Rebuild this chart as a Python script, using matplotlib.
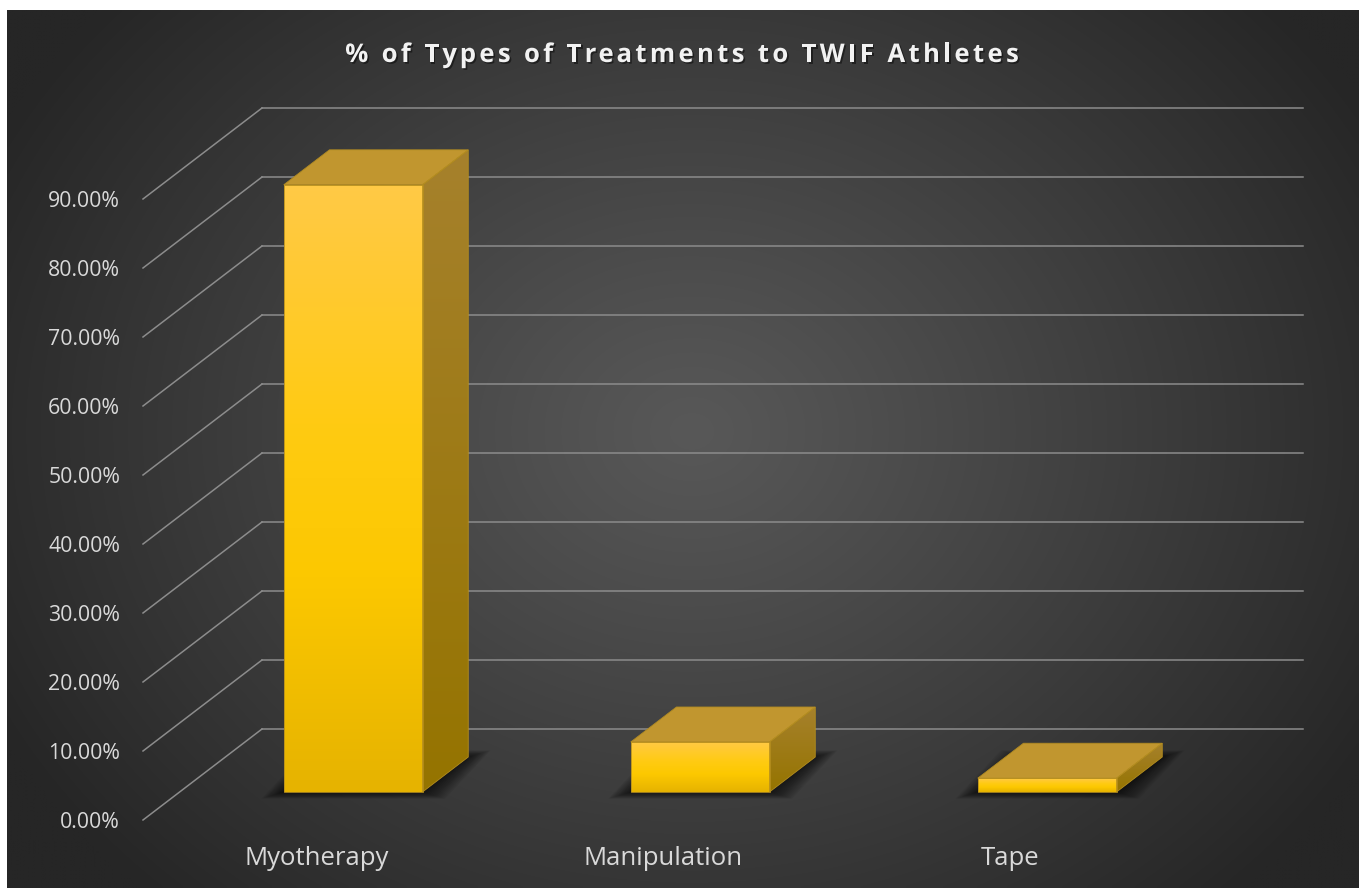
import numpy as np
import matplotlib
matplotlib.use("Agg")
import matplotlib.pyplot as plt
import matplotlib.patheffects as pe
from matplotlib.patches import Polygon
from matplotlib.colors import to_rgb
from matplotlib.font_manager import FontProperties
from matplotlib.transforms import IdentityTransform

CATEGORIES = ["Myotherapy", "Manipulation", "Tape"]
VALUES = [88.0, 7.25, 2.0]
Y_TICKS = [0, 10, 20, 30, 40, 50, 60, 70, 80, 90]
Y_TICK_LABELS = [f"{t:.2f}%" for t in Y_TICKS]
TITLE = "% of Types of Treatments to TWIF Athletes"

W, H, DPI = 1359, 888, 100
FONT = "Open Sans"
TEXT_COLOR = "#d9d9d9"
GRID_COLOR = "#8c8c8c"

# oblique 3-D projection, in data units (x: category, y: percent)
PX_X = 1 / 347          # one pixel along x
PX_Y = 1 / 6.9          # one pixel along y
DEPTH_DX = 119 * PX_X
DEPTH_DY = 91 * PX_Y
BAR_HALF = 0.2
BAR_D0, BAR_D1 = 0.308, 0.692

FRONT_STOPS = [0.0, 0.35, 0.6, 1.0]
FRONT_COLORS = ["#e6b300", "#fcc800", "#ffcb12", "#ffc946"]
SIDE_STOPS = [0.0, 1.0]
SIDE_COLORS = ["#957400", "#a6812c"]
TOP_COLOR = "#c1962f"


def proj(x, d, v):
    return (x + d * DEPTH_DX, v + d * DEPTH_DY)


def gradient_face(ax, verts, stops, colors, zorder):
    poly = Polygon(verts, closed=True, facecolor="none", edgecolor="none",
                   transform=ax.transData, clip_on=False)
    ax.add_patch(poly)
    xs = [p[0] for p in verts]
    ys = [p[1] for p in verts]
    t = np.linspace(0, 1, 128)
    rgb = np.array([np.interp(t, stops, [to_rgb(c)[i] for c in colors])
                    for i in range(3)]).T
    im = ax.imshow(rgb[:, None, :], extent=(min(xs), max(xs), min(ys), max(ys)),
                   origin="lower", aspect="auto", interpolation="bilinear",
                   zorder=zorder)
    im.set_clip_path(poly)


def draw_background(fig):
    bg = fig.add_axes([7 / W, 0, (W - 7) / W, (H - 10) / H])
    bh, bw = 220, 340
    yy, xx = np.mgrid[0:bh, 0:bw]
    xx = xx / bw * (W - 7) + 7
    yy = yy / bh * (H - 10) + 10
    r = np.sqrt(((xx - 690) / 780) ** 2 + ((yy - 430) / 640) ** 2)
    r = np.clip(r, 0, 1)
    light, dark = 0x58 / 255, 0x26 / 255
    g = light + (dark - light) * r ** 1.1
    bg.imshow(np.dstack([g, g, g]), aspect="auto", interpolation="bilinear")
    bg.axis("off")


def tracked_title(fig, text, cx, baseline, size, track):
    """Title with extra letter spacing (pixel coordinates, origin bottom-left)."""
    renderer = fig.canvas.get_renderer()
    prop = FontProperties(family=FONT, weight="bold", size=size)

    def width(s):
        return renderer.get_text_width_height_descent(s, prop, ismath=False)[0] if s else 0.0

    total = width(text) + track * (len(text) - 1)
    x0 = cx - total / 2
    shadow = [pe.withSimplePatchShadow(offset=(1.2, -1.2), shadow_rgbFace="black", alpha=0.45)]
    for i, ch in enumerate(text):
        if ch == " ":
            continue
        fig.text(x0 + width(text[:i]) + track * i, baseline, ch, transform=IdentityTransform(),
                 ha="left", va="baseline", fontproperties=prop, color="#f2f2f2",
                 path_effects=shadow)


def main():
    fig = plt.figure(figsize=(W / DPI, H / DPI), dpi=DPI)
    fig.patch.set_facecolor("white")
    draw_background(fig)

    ax = fig.add_axes([143 / W, (H - 820) / H, (1303 - 143) / W, (820 - 109) / H])
    ax.set_facecolor("none")
    xmax = (1303 - 143) * PX_X
    ymax = (820 - 109) * PX_Y

    # side wall and back wall gridlines
    for t in Y_TICKS:
        x0, y0 = proj(0, 0, t)
        x1, y1 = proj(0, 1, t)
        ax.plot([x0, x1], [y0, y1], color=GRID_COLOR, lw=1.1, clip_on=False, zorder=1)
        ax.plot([x1, xmax], [y1, y1], color=GRID_COLOR, lw=1.1, clip_on=False, zorder=1)

    centers = np.arange(len(CATEGORIES)) + 0.5
    for c, v in zip(centers, VALUES):
        l, r = c - BAR_HALF, c + BAR_HALF
        # soft shadow on the floor
        for k in range(14):
            e = 1.6 * (k + 1)
            ex, ey = e * PX_X, 0.3 * e * PX_Y
            fl = proj(l - ex, BAR_D0, -ey)
            fr = proj(r + ex, BAR_D0, -ey)
            br = proj(r + ex, BAR_D1, ey)
            bl = proj(l - ex, BAR_D1, ey)
            ax.add_patch(Polygon([fl, fr, br, bl], closed=True, facecolor="black",
                                 edgecolor="none", alpha=0.055, zorder=2, clip_on=False))
        front = [proj(l, BAR_D0, 0), proj(r, BAR_D0, 0), proj(r, BAR_D0, v), proj(l, BAR_D0, v)]
        side = [proj(r, BAR_D0, 0), proj(r, BAR_D1, 0), proj(r, BAR_D1, v), proj(r, BAR_D0, v)]
        top = [proj(l, BAR_D0, v), proj(r, BAR_D0, v), proj(r, BAR_D1, v), proj(l, BAR_D1, v)]
        gradient_face(ax, front, FRONT_STOPS, FRONT_COLORS, 3)
        gradient_face(ax, side, SIDE_STOPS, SIDE_COLORS, 3)
        ax.add_patch(Polygon(top, closed=True, facecolor=TOP_COLOR, edgecolor="#b08a22",
                             lw=0.6, zorder=4, clip_on=False))
        for face in (front, side):
            ax.add_patch(Polygon(face, closed=True, facecolor="none", edgecolor="#b58e1e",
                                 lw=0.6, zorder=4, clip_on=False))

    ax.set_xlim(0, xmax)
    ax.set_ylim(0, ymax)
    ax.set_yticks(Y_TICKS)
    ax.set_yticklabels(Y_TICK_LABELS, fontsize=15.3, color=TEXT_COLOR, family=FONT)
    ax.set_xticks(centers)
    ax.set_xticklabels(CATEGORIES, fontsize=18.5, color=TEXT_COLOR, family=FONT)
    ax.tick_params(axis="y", length=0, pad=16.5)
    ax.tick_params(axis="x", length=0, pad=18.5)
    for s in ax.spines.values():
        s.set_visible(False)

    tracked_title(fig, TITLE, 682, H - 62, 18.5, 3.3)

    fig.savefig("out.png", dpi=DPI, facecolor=fig.get_facecolor())
    plt.close(fig)


if __name__ == "__main__":
    main()
